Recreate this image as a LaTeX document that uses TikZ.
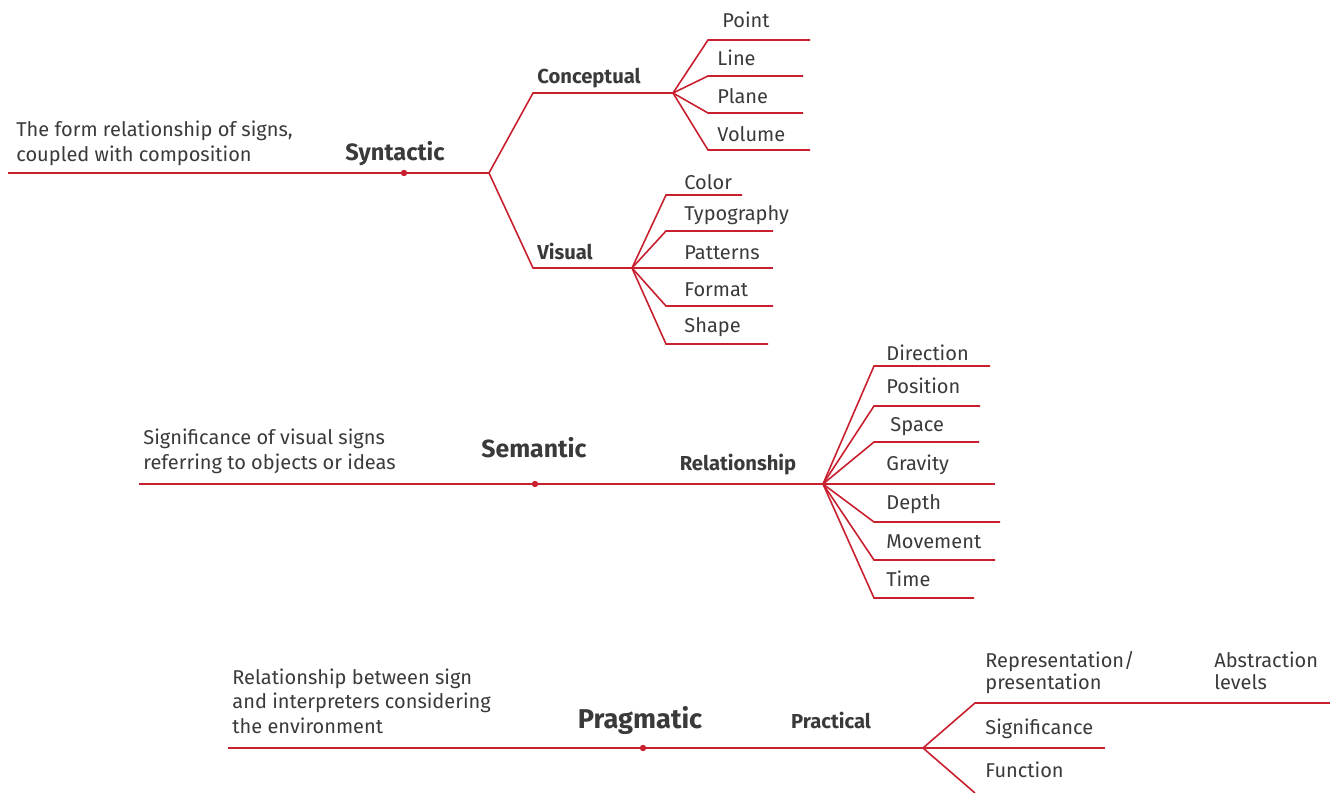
\documentclass[tikz,border=0pt]{standalone}
\usepackage{fontspec}
\setmainfont{Fira Sans}
\usepackage{xcolor}

\definecolor{signred}{HTML}{C8202F}
\definecolor{signgray}{HTML}{3A3A3A}

\tikzset{
  branch/.style={draw=signred, line width=0.8pt},
  dot/.style={circle, fill=signred, inner sep=0pt, minimum size=3.2pt},
  leaf/.style={anchor=base west, inner sep=0pt, text=signgray, font=\fontsize{10}{12.2}\selectfont},
  desc/.style={leaf, align=left},
  tightdesc/.style={desc, font=\fontsize{10}{11}\selectfont},
  sublabel/.style={anchor=base, inner sep=0pt, text=signgray, font=\fontsize{10.1}{12}\selectfont\bfseries},
  mainlabel/.style={anchor=base, inner sep=0pt, text=signgray, font=\fontsize{#1}{14}\selectfont\bfseries}
}

\begin{document}
\begin{tikzpicture}[x=0.5pt, y=-0.5pt]
  % Page size
  \useasboundingbox (0,0) rectangle (1330,793);

  % Syntactic branch
  \coordinate (syn-start) at (8,173);
  \coordinate (syn-fork) at (489,173);
  \coordinate (conc-knee) at (533,93);
  \coordinate (conc-fork) at (673,93);
  \coordinate (vis-knee) at (533,268);
  \coordinate (vis-fork) at (632,268);
  \draw[branch] (syn-start) -- (syn-fork);
  \draw[branch] (syn-fork) -- (conc-knee) -- (conc-fork);
  \draw[branch] (syn-fork) -- (vis-knee) -- (vis-fork);
  \node[dot] (syn-dot) at (404,173) {};
  \node[desc] (syn-desc) at (16,161) {The form relationship of signs,\\coupled with composition};
  \node[mainlabel=11.8] (syn-label) at (395,160) {Syntactic};
  \node[sublabel] (conc-label) at (589,83) {Conceptual};
  \node[sublabel] (vis-label) at (565,259) {Visual};

  % Conceptual leaves
  \foreach \y/\ex/\lx/\ly/\txt [count=\i] in {40/810/722/27/Point, 76/803/717/65/Line,
      113/803/717/103/Plane, 150/810/717/141/Volume}{
    \coordinate (conc-k\i) at (708,\y);
    \coordinate (conc-e\i) at (\ex,\y);
    \draw[branch] (conc-fork) -- (conc-k\i) -- (conc-e\i);
    \node[leaf] (conc-t\i) at (\lx,\ly) {\txt};
  }

  % Visual leaves
  \foreach \y/\ex/\ly/\txt [count=\i] in {195/742/189/Color, 231/773/220/Typography,
      268/773/259/Patterns, 306/773/296/Format, 344/768/332/Shape}{
    \coordinate (vis-k\i) at (666,\y);
    \coordinate (vis-e\i) at (\ex,\y);
    \draw[branch] (vis-fork) -- (vis-k\i) -- (vis-e\i);
    \node[leaf] (vis-t\i) at (684,\ly) {\txt};
  }

  % Semantic branch
  \coordinate (sem-start) at (139,484);
  \coordinate (sem-fork) at (823,484);
  \draw[branch] (sem-start) -- (sem-fork);
  \node[dot] (sem-dot) at (535,484) {};
  \node[desc] (sem-desc) at (143,469) {Significance of visual signs\\referring to objects or ideas};
  \node[mainlabel=12.4] (sem-label) at (534,457) {Semantic};
  \node[sublabel] (rel-label) at (738,470) {Relationship};

  % Relationship leaves
  \foreach \y/\ex/\lx/\ly/\txt [count=\i] in {366/990/886/360/Direction, 406/980/886/393/Position,
      442/979/890/431/Space, 484/995/886/470/Gravity, 522/1000/886/509/Depth,
      560/995/886/548/Movement, 598/974/886/586/Time}{
    \coordinate (rel-k\i) at (874,\y);
    \coordinate (rel-e\i) at (\ex,\y);
    \draw[branch] (sem-fork) -- (rel-k\i) -- (rel-e\i);
    \node[leaf] (rel-t\i) at (\lx,\ly) {\txt};
  }

  % Pragmatic branch
  \coordinate (prag-start) at (228,748);
  \coordinate (prag-fork) at (923,748);
  \draw[branch] (prag-start) -- (prag-fork);
  \node[dot] (prag-dot) at (643,748) {};
  \node[desc] (prag-desc) at (232,733) {Relationship between sign\\and interpreters considering\\the environment};
  \node[mainlabel=13.6] (prag-label) at (640,728) {Pragmatic};
  \node[sublabel] (prac-label) at (831,728) {Practical};

  % Practical leaves
  \coordinate (prac-k1) at (975,703);
  \coordinate (prac-e1) at (1330,703);
  \coordinate (prac-e2) at (1105,748);
  \coordinate (prac-k3) at (975,793);
  \draw[branch] (prag-fork) -- (prac-k1) -- (prac-e1);
  \draw[branch] (prag-fork) -- (prac-e2);
  \draw[branch] (prag-fork) -- (prac-k3);
  \node[tightdesc] (prac-t1) at (985,689) {Representation/\\presentation};
  \node[tightdesc] (prac-t4) at (1214,689) {Abstraction\\levels};
  \node[leaf] (prac-t2) at (985,734) {Significance};
  \node[leaf] (prac-t3) at (985,777) {Function};
\end{tikzpicture}
\end{document}
